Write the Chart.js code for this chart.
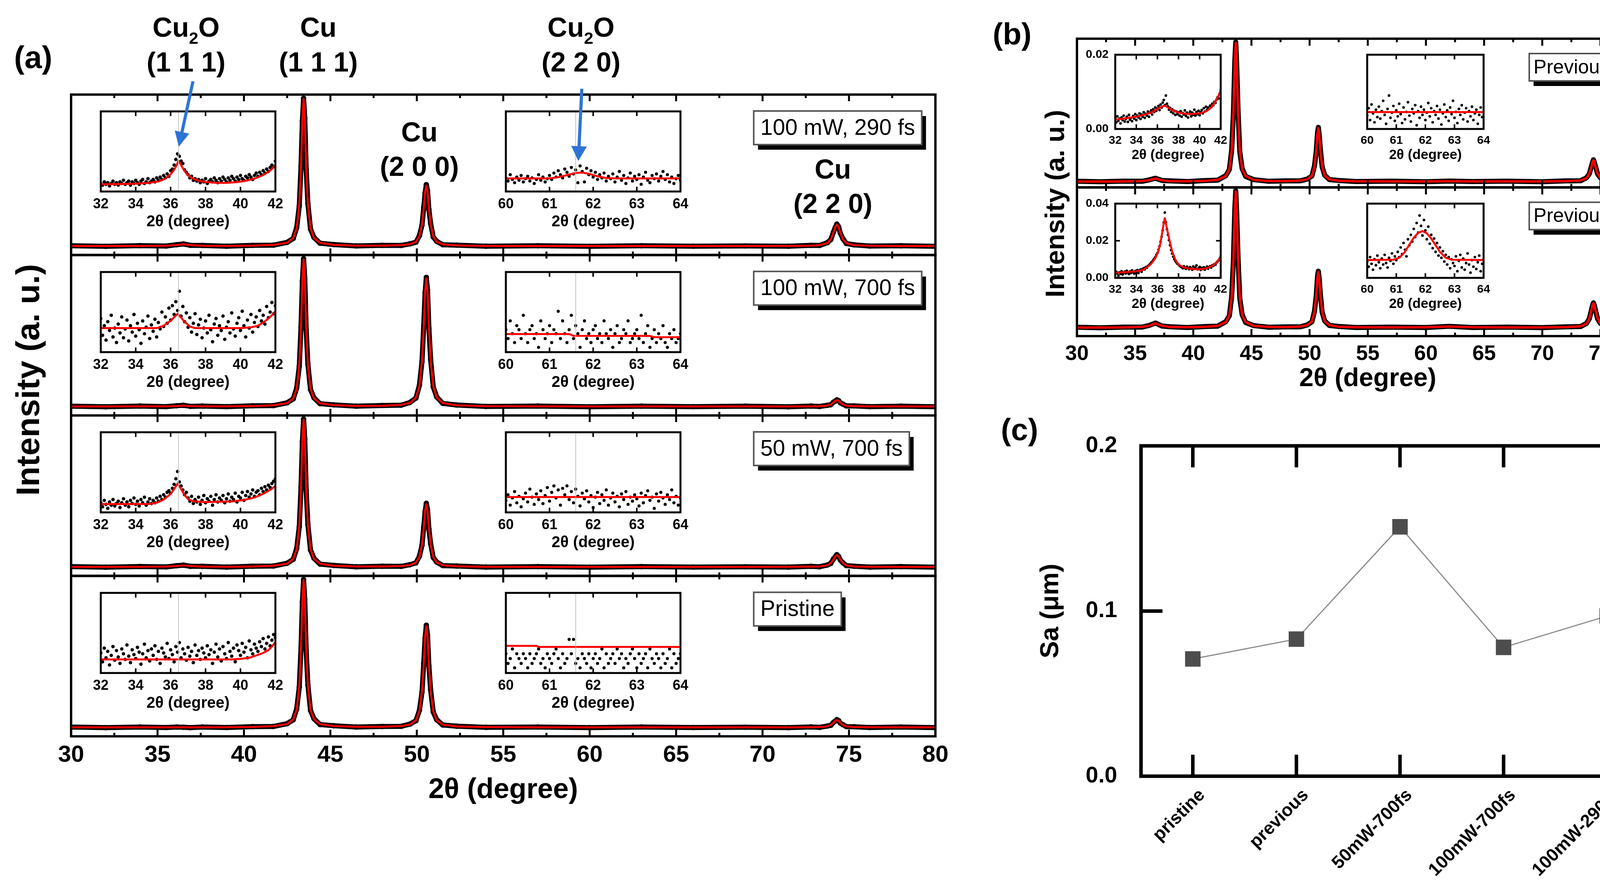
<!DOCTYPE html>
<html><head><meta charset="utf-8">
<script src="https://cdn.jsdelivr.net/npm/chart.js@4.4.1/dist/chart.umd.min.js"></script>
<style>
html,body{margin:0;padding:0;background:#fff;}
body{width:4310px;height:2290px;position:relative;overflow:hidden;}
canvas{position:absolute;}
</style></head><body>
<script>
// ================= DATA =================
// Panel (a) main XRD patterns (2theta grid and normalized intensities)
const XA = [30,32,34,35.5,36.1,36.5,36.9,37.6,39,40.5,41.7,42.5,42.85,43.05,43.2,43.3,43.38,43.45,43.52,43.6,43.7,43.85,44.05,44.4,45.2,46.5,48,49.1,49.6,49.95,50.15,50.3,50.4,50.48,50.55,50.62,50.7,50.8,50.95,51.15,51.5,52.3,54,57,60,63,66,69,71.5,72.8,73.3,73.75,73.95,74.1,74.2,74.3,74.4,74.5,74.65,74.85,75.3,76.2,78,80];
const FIT_290 = [.001,.001,.002,.003,.008,.013,.008,.003,.002,.004,.009,.023,.056,.121,.281,.531,.861,1.0,.861,.531,.281,.121,.056,.023,.009,.004,.004,.007,.013,.030,.067,.149,.255,.370,.411,.370,.255,.149,.067,.030,.013,.005,.002,.001,.001,.001,.001,.001,.002,.004,.007,.021,.048,.092,.129,.147,.129,.092,.048,.021,.007,.003,.001,.001];
const OBS_290 = [.003,-.001,.004,.001,.010,.015,.006,.005,.000,.006,.007,.026,.052,.126,.274,.540,.852,1.005,.870,.522,.288,.116,.060,.020,.011,.002,.006,.005,.016,.027,.071,.143,.262,.362,.418,.376,.248,.154,.063,.033,.010,.007,.000,.003,-.001,.003,.000,.002,.000,.006,.005,.024,.045,.095,.125,.150,.132,.088,.051,.018,.009,.001,.003,-.001];
const FIT_700 = [.001,.001,.002,.002,.004,.007,.004,.002,.002,.004,.009,.023,.056,.121,.281,.531,.861,1.0,.861,.531,.281,.121,.056,.023,.010,.005,.006,.012,.025,.062,.140,.314,.540,.784,.871,.784,.540,.314,.140,.062,.025,.009,.003,.002,.001,.001,.001,.001,.001,.002,.003,.007,.015,.028,.039,.044,.039,.028,.015,.007,.003,.002,.001,.001];
const OBS_700 = [.003,-.001,.004,.000,.006,.009,.002,.004,.000,.006,.007,.026,.052,.126,.274,.540,.852,1.005,.870,.522,.288,.116,.060,.020,.012,.003,.008,.010,.028,.058,.145,.306,.551,.775,.878,.792,.531,.320,.134,.066,.022,.011,.001,.004,-.001,.003,.000,.003,-.001,.004,.001,.009,.013,.030,.037,.046,.041,.026,.017,.005,.005,.000,.003,-.001];
const FIT_50 = [.001,.001,.002,.003,.007,.011,.007,.003,.002,.004,.009,.023,.056,.121,.281,.531,.861,1.0,.861,.531,.281,.121,.056,.023,.009,.004,.004,.007,.013,.031,.069,.154,.265,.384,.427,.384,.265,.154,.069,.031,.013,.005,.002,.001,.001,.001,.001,.001,.002,.003,.004,.012,.027,.051,.071,.081,.071,.051,.027,.012,.004,.002,.001,.001];
const OBS_50 = [.003,-.001,.004,.001,.009,.013,.005,.005,.000,.006,.007,.026,.052,.126,.274,.540,.852,1.005,.870,.522,.288,.116,.060,.020,.011,.002,.006,.005,.016,.028,.073,.148,.272,.376,.433,.390,.258,.159,.065,.034,.010,.007,.000,.003,-.001,.003,.000,.002,.000,.005,.002,.014,.025,.054,.068,.084,.073,.048,.029,.010,.006,.000,.003,-.001];
const FIT_PR = [.001,.001,.001,.001,.001,.001,.001,.001,.002,.004,.009,.023,.056,.121,.281,.531,.861,1.0,.861,.531,.281,.121,.056,.023,.010,.005,.005,.010,.020,.049,.111,.248,.427,.619,.688,.619,.427,.248,.111,.049,.020,.007,.003,.001,.001,.001,.001,.001,.001,.002,.003,.008,.017,.032,.045,.051,.045,.032,.017,.008,.003,.002,.001,.001];
const OBS_PR = [.003,-.001,.003,.000,.003,.002,-.001,.003,.000,.006,.007,.026,.052,.126,.274,.540,.852,1.005,.870,.522,.288,.116,.060,.020,.012,.003,.007,.008,.023,.046,.116,.241,.436,.610,.695,.627,.418,.255,.105,.053,.017,.009,.001,.003,-.001,.003,.000,.002,-.001,.004,.001,.010,.015,.034,.043,.053,.047,.030,.019,.006,.005,.000,.003,-.001];

// Panel (b) main XRD patterns
const XB = [30,32,34,35.6,36.2,36.75,37.3,38,39.5,41,42.1,42.8,43.1,43.3,43.45,43.57,43.65,43.73,43.85,44.0,44.2,44.5,45.2,46.5,48,49.2,49.8,50.2,50.42,50.57,50.68,50.75,50.82,50.93,51.08,51.3,51.7,52.5,54,57,60,62,64,67,70,72,73.3,73.8,74.05,74.22,74.32,74.4,74.48,74.58,74.75,75.0,75.5,76.5,78,80];
const FIT_P2 = [.002,.002,.003,.006,.012,.024,.012,.005,.004,.007,.014,.042,.092,.222,.502,.861,1.0,.861,.502,.222,.092,.042,.014,.006,.005,.009,.018,.045,.110,.226,.349,.386,.349,.226,.110,.045,.018,.008,.004,.003,.003,.004,.003,.003,.003,.005,.010,.026,.061,.107,.144,.155,.144,.107,.061,.026,.010,.005,.003,.003];
const OBS_P2 = [.004,.001,.005,.004,.014,.026,.010,.007,.002,.009,.012,.045,.088,.229,.494,.870,1.006,.852,.510,.215,.096,.039,.016,.004,.007,.007,.020,.042,.115,.221,.355,.392,.343,.231,.106,.048,.016,.010,.002,.005,.001,.006,.002,.005,.001,.007,.008,.029,.058,.111,.140,.159,.141,.111,.058,.029,.008,.007,.001,.005];
const FIT_P1 = [.003,.003,.004,.008,.016,.033,.016,.007,.005,.008,.015,.043,.093,.223,.503,.862,1.0,.862,.503,.223,.093,.043,.015,.007,.006,.010,.020,.048,.118,.241,.372,.410,.372,.241,.118,.048,.020,.009,.005,.004,.005,.010,.005,.004,.004,.006,.012,.030,.071,.125,.168,.180,.168,.125,.071,.030,.012,.006,.004,.004];
const OBS_P1 = [.005,.001,.006,.006,.018,.036,.014,.009,.003,.010,.013,.046,.089,.230,.495,.871,1.006,.853,.511,.216,.097,.040,.017,.005,.008,.008,.022,.045,.123,.236,.378,.416,.366,.246,.114,.051,.018,.011,.003,.006,.003,.012,.003,.006,.002,.008,.010,.033,.068,.129,.164,.184,.165,.129,.068,.033,.010,.008,.002,.006];

// Inset grids
const XI1 = [32.0,32.1,32.2,32.3,32.4,32.5,32.6,32.7,32.8,32.9,33.0,33.1,33.2,33.3,33.4,33.5,33.6,33.7,33.8,33.9,34.0,34.1,34.2,34.3,34.4,34.5,34.6,34.7,34.8,34.9,35.0,35.1,35.2,35.3,35.4,35.5,35.6,35.7,35.8,35.9,36.0,36.1,36.2,36.3,36.4,36.5,36.6,36.7,36.8,36.9,37.0,37.1,37.2,37.3,37.4,37.5,37.6,37.7,37.8,37.9,38.0,38.1,38.2,38.3,38.4,38.5,38.6,38.7,38.8,38.9,39.0,39.1,39.2,39.3,39.4,39.5,39.6,39.7,39.8,39.9,40.0,40.1,40.2,40.3,40.4,40.5,40.6,40.7,40.8,40.9,41.0,41.1,41.2,41.3,41.4,41.5,41.6,41.7,41.8,41.9,42.0];
const XI2 = [60.00,60.05,60.10,60.15,60.20,60.25,60.30,60.35,60.40,60.45,60.50,60.55,60.60,60.65,60.70,60.75,60.80,60.85,60.90,60.95,61.00,61.05,61.10,61.15,61.20,61.25,61.30,61.35,61.40,61.45,61.50,61.55,61.60,61.65,61.70,61.75,61.80,61.85,61.90,61.95,62.00,62.05,62.10,62.15,62.20,62.25,62.30,62.35,62.40,62.45,62.50,62.55,62.60,62.65,62.70,62.75,62.80,62.85,62.90,62.95,63.00,63.05,63.10,63.15,63.20,63.25,63.30,63.35,63.40,63.45,63.50,63.55,63.60,63.65,63.70,63.75,63.80,63.85,63.90,63.95,64.00];

// Inset (32-42 deg) measured points
const IN1_290 = [0.10,0.08,0.12,0.09,0.11,0.07,0.10,0.13,0.09,0.11,0.08,0.12,0.10,0.14,0.09,0.11,0.13,0.08,0.12,0.10,0.14,0.11,0.09,0.13,0.15,0.10,0.12,0.16,0.11,0.13,0.15,0.12,0.17,0.14,0.18,0.15,0.20,0.17,0.22,0.19,0.26,0.28,0.33,0.40,0.47,0.44,0.38,0.35,0.27,0.24,0.21,0.17,0.19,0.14,0.16,0.13,0.15,0.11,0.14,0.12,0.16,0.10,0.13,0.15,0.12,0.17,0.14,0.11,0.16,0.13,0.18,0.15,0.12,0.17,0.14,0.19,0.16,0.13,0.18,0.15,0.20,0.16,0.14,0.19,0.17,0.21,0.18,0.15,0.20,0.23,0.19,0.24,0.21,0.26,0.23,0.28,0.25,0.30,0.33,0.31,0.38];
const IN1_700 = [0.42,0.21,0.33,0.15,0.38,0.27,0.46,0.19,0.30,0.12,0.35,0.24,0.44,0.18,0.29,0.40,0.14,0.33,0.25,0.47,0.20,0.36,0.28,0.11,0.39,0.23,0.31,0.45,0.17,0.34,0.26,0.41,0.19,0.37,0.29,0.50,0.32,0.44,0.36,0.55,0.40,0.58,0.47,0.63,0.52,0.76,0.45,0.57,0.38,0.49,0.31,0.43,0.25,0.36,0.48,0.22,0.34,0.41,0.18,0.30,0.39,0.24,0.46,0.28,0.13,0.35,0.42,0.21,0.33,0.27,0.45,0.16,0.31,0.38,0.24,0.49,0.29,0.20,0.36,0.43,0.27,0.51,0.33,0.19,0.40,0.30,0.47,0.25,0.37,0.44,0.32,0.52,0.39,0.46,0.35,0.57,0.43,0.50,0.62,0.48,0.58];
const IN1_50 = [0.12,0.07,0.15,0.10,0.05,0.13,0.09,0.16,0.08,0.11,0.14,0.06,0.12,0.17,0.09,0.13,0.07,0.15,0.11,0.18,0.10,0.14,0.08,0.16,0.12,0.19,0.09,0.13,0.17,0.11,0.15,0.12,0.18,0.14,0.20,0.16,0.22,0.19,0.25,0.27,0.24,0.30,0.35,0.42,0.51,0.38,0.33,0.28,0.22,0.25,0.18,0.14,0.20,0.11,0.16,0.13,0.19,0.10,0.15,0.21,0.12,0.17,0.14,0.20,0.09,0.16,0.22,0.13,0.18,0.15,0.21,0.12,0.17,0.23,0.14,0.19,0.16,0.24,0.13,0.20,0.18,0.25,0.15,0.21,0.26,0.19,0.23,0.28,0.20,0.25,0.27,0.22,0.30,0.26,0.32,0.28,0.34,0.31,0.36,0.39,0.42];
const IN1_PR = [0.25,0.14,0.31,0.19,0.27,0.10,0.22,0.33,0.16,0.28,0.20,0.12,0.30,0.24,0.17,0.35,0.21,0.13,0.29,0.23,0.18,0.32,0.26,0.11,0.24,0.36,0.19,0.28,0.15,0.30,0.22,0.34,0.17,0.27,0.12,0.31,0.25,0.20,0.37,0.18,0.29,0.23,0.14,0.33,0.26,0.38,0.19,0.30,0.24,0.16,0.32,0.21,0.27,0.13,0.35,0.22,0.28,0.17,0.31,0.25,0.19,0.34,0.23,0.29,0.12,0.26,0.36,0.20,0.30,0.15,0.33,0.24,0.18,0.38,0.27,0.21,0.31,0.14,0.35,0.28,0.22,0.37,0.26,0.32,0.19,0.40,0.29,0.24,0.36,0.31,0.27,0.39,0.33,0.43,0.30,0.37,0.45,0.34,0.41,0.48,0.44];
const IN1_P2 = [0.0030,0.0018,0.0034,0.0022,0.0028,0.0015,0.0031,0.0024,0.0036,0.0020,0.0027,0.0033,0.0019,0.0038,0.0025,0.0030,0.0021,0.0035,0.0028,0.0040,0.0024,0.0036,0.0031,0.0042,0.0027,0.0039,0.0033,0.0045,0.0030,0.0041,0.0036,0.0047,0.0033,0.0044,0.0050,0.0039,0.0053,0.0046,0.0058,0.0049,0.0055,0.0062,0.0051,0.0066,0.0058,0.0071,0.0078,0.0064,0.0090,0.0068,0.0061,0.0052,0.0057,0.0046,0.0053,0.0042,0.0049,0.0038,0.0047,0.0040,0.0045,0.0036,0.0048,0.0033,0.0043,0.0039,0.0050,0.0035,0.0044,0.0031,0.0041,0.0047,0.0034,0.0044,0.0038,0.0052,0.0036,0.0046,0.0040,0.0049,0.0037,0.0045,0.0051,0.0042,0.0056,0.0047,0.0060,0.0052,0.0058,0.0055,0.0063,0.0059,0.0068,0.0064,0.0073,0.0070,0.0079,0.0085,0.0082,0.0094,0.0105];
const IN1_P1 = [0.0020,0.0033,0.0025,0.0012,0.0030,0.0022,0.0036,0.0018,0.0028,0.0034,0.0024,0.0038,0.0029,0.0021,0.0035,0.0027,0.0040,0.0031,0.0023,0.0037,0.0030,0.0042,0.0026,0.0039,0.0045,0.0033,0.0048,0.0052,0.0046,0.0058,0.0055,0.0064,0.0068,0.0075,0.0082,0.0087,0.0095,0.0103,0.0112,0.0124,0.0134,0.0152,0.0170,0.0195,0.0222,0.0256,0.0298,0.0352,0.0300,0.0262,0.0232,0.0203,0.0176,0.0150,0.0131,0.0114,0.0101,0.0091,0.0083,0.0076,0.0072,0.0066,0.0061,0.0058,0.0052,0.0063,0.0055,0.0049,0.0060,0.0053,0.0047,0.0058,0.0051,0.0044,0.0062,0.0049,0.0055,0.0067,0.0046,0.0052,0.0059,0.0043,0.0054,0.0048,0.0057,0.0045,0.0053,0.0061,0.0050,0.0058,0.0063,0.0056,0.0068,0.0065,0.0074,0.0071,0.0082,0.0088,0.0095,0.0104,0.0116];

// Inset (60-64 deg) measured points
const IN2_290 = [0.17,0.13,0.21,0.15,0.11,0.18,0.14,0.20,0.12,0.16,0.19,0.13,0.17,0.10,0.15,0.21,0.14,0.18,0.12,0.16,0.20,0.15,0.23,0.18,0.26,0.21,0.17,0.28,0.24,0.19,0.30,0.22,0.27,0.11,0.32,0.25,0.12,0.29,0.21,0.26,0.18,0.24,0.15,0.21,0.17,0.23,0.13,0.19,0.16,0.22,0.12,0.18,0.25,0.14,0.20,0.10,0.17,0.23,0.13,0.19,0.15,0.21,0.09,0.18,0.24,0.14,0.11,0.20,0.16,0.22,0.13,0.19,0.25,0.15,0.21,0.12,0.18,0.10,0.16,0.20,0.14];
const IN2_700 = [0.28,0.17,0.39,0.23,0.12,0.33,0.28,0.17,0.46,0.23,0.12,0.28,0.33,0.17,0.23,0.06,0.39,0.28,0.17,0.23,0.33,0.12,0.28,0.23,0.51,0.17,0.39,0.23,0.12,0.28,0.46,0.17,0.33,0.23,0.06,0.28,0.39,0.17,0.23,0.12,0.28,0.33,0.17,0.23,0.12,0.39,0.23,0.17,0.28,0.06,0.23,0.33,0.12,0.17,0.28,0.23,0.39,0.12,0.17,0.23,0.28,0.17,0.46,0.12,0.23,0.33,0.06,0.17,0.28,0.12,0.23,0.17,0.33,0.12,0.06,0.23,0.17,0.28,0.12,0.17,0.23];
const IN2_50 = [0.15,0.22,0.09,0.18,0.26,0.12,0.20,0.07,0.17,0.24,0.13,0.29,0.19,0.10,0.23,0.16,0.27,0.11,0.21,0.31,0.14,0.25,0.33,0.18,0.28,0.09,0.30,0.22,0.33,0.16,0.26,0.12,0.29,0.20,0.08,0.24,0.17,0.27,0.13,0.21,0.06,0.19,0.25,0.11,0.22,0.15,0.28,0.09,0.18,0.24,0.13,0.20,0.07,0.23,0.16,0.26,0.10,0.19,0.14,0.22,0.17,0.08,0.24,0.12,0.21,0.27,0.15,0.19,0.05,0.23,0.14,0.25,0.18,0.10,0.22,0.16,0.28,0.12,0.20,0.09,0.18];
const IN2_PR = [0.24,0.12,0.18,0.30,0.065,0.24,0.18,0.12,0.24,0.18,0.065,0.24,0.12,0.18,0.24,0.30,0.12,0.18,0.065,0.24,0.18,0.12,0.24,0.30,0.18,0.065,0.24,0.12,0.18,0.42,0.24,0.42,0.12,0.18,0.065,0.24,0.18,0.12,0.24,0.065,0.18,0.24,0.12,0.18,0.30,0.065,0.24,0.12,0.18,0.24,0.12,0.30,0.18,0.24,0.065,0.18,0.12,0.24,0.30,0.18,0.065,0.24,0.12,0.18,0.24,0.065,0.30,0.18,0.12,0.24,0.18,0.065,0.24,0.12,0.18,0.30,0.065,0.24,0.12,0.18,0.24];
const IN2_P2 = [0.18,0.28,0.12,0.33,0.21,0.09,0.26,0.16,0.30,0.14,0.24,0.38,0.19,0.07,0.27,0.45,0.15,0.22,0.31,0.11,0.25,0.17,0.34,0.20,0.08,0.29,0.13,0.23,0.36,0.18,0.10,0.27,0.21,0.32,0.05,0.24,0.15,0.30,0.19,0.26,0.12,0.22,0.35,0.17,0.28,0.09,0.24,0.19,0.31,0.14,0.26,0.06,0.21,0.33,0.16,0.25,0.11,0.29,0.20,0.38,0.15,0.23,0.08,0.27,0.19,0.32,0.13,0.22,0.28,0.10,0.24,0.17,0.30,0.12,0.21,0.26,0.07,0.19,0.29,0.16,0.23];
const IN2_P1 = [0.22,0.15,0.28,0.19,0.11,0.25,0.17,0.30,0.21,0.13,0.26,0.18,0.31,0.20,0.14,0.27,0.23,0.33,0.19,0.29,0.24,0.35,0.28,0.41,0.32,0.47,0.38,0.29,0.52,0.44,0.58,0.49,0.66,0.55,0.74,0.61,0.84,0.70,0.57,0.78,0.64,0.52,0.69,0.46,0.58,0.40,0.53,0.35,0.47,0.30,0.41,0.27,0.36,0.22,0.31,0.18,0.28,0.13,0.25,0.20,0.16,0.29,0.09,0.23,0.31,0.14,0.26,0.11,0.20,0.33,0.18,0.07,0.24,0.15,0.28,0.12,0.21,0.30,0.09,0.19,0.25];

// Inset fitted curves [2theta, intensity]
const FIT1_290 = [[32,0.09],[33,0.093],[34,0.098],[34.8,0.108],[35.3,0.125],[35.7,0.16],[36.0,0.215],[36.2,0.27],[36.35,0.33],[36.45,0.385],[36.55,0.35],[36.7,0.29],[36.9,0.225],[37.2,0.168],[37.6,0.135],[38.0,0.118],[38.6,0.108],[39.2,0.107],[39.8,0.117],[40.4,0.138],[40.9,0.168],[41.3,0.205],[41.6,0.245],[41.85,0.29],[42.0,0.33]];
const FIT1_700 = [[32,0.30],[35.2,0.30],[35.6,0.33],[36.0,0.39],[36.4,0.48],[36.8,0.38],[37.1,0.32],[37.4,0.30],[40.0,0.30],[40.6,0.31],[41.0,0.33],[41.3,0.37],[41.6,0.42],[41.8,0.46],[42.0,0.51]];
const FIT1_50 = [[32,0.104],[34.8,0.105],[35.2,0.12],[35.6,0.16],[36.0,0.23],[36.2,0.29],[36.4,0.36],[36.6,0.29],[36.8,0.216],[37.0,0.165],[37.3,0.138],[38.0,0.128],[39.5,0.136],[40.2,0.155],[40.8,0.185],[41.3,0.232],[41.7,0.28],[42.0,0.328]];
const FIT1_PR = [[32,0.17],[39.5,0.17],[40.0,0.177],[40.5,0.19],[41.0,0.226],[41.3,0.25],[41.6,0.285],[41.8,0.33],[42.0,0.387]];
const FIT1_P2 = [[32,0.0025],[33,0.0029],[34,0.0033],[35,0.004],[35.6,0.0047],[36,0.0054],[36.4,0.006],[36.7,0.0063],[37.0,0.0058],[37.5,0.0049],[38,0.0044],[39,0.004],[40,0.0042],[40.5,0.0046],[40.8,0.0051],[41.2,0.0061],[41.5,0.0074],[41.8,0.009],[42,0.0104]];
const FIT1_P1 = [[32,0.0028],[33,0.0031],[34,0.0035],[34.6,0.0042],[35,0.0057],[35.4,0.0075],[35.8,0.0106],[36.1,0.0145],[36.3,0.0191],[36.5,0.0262],[36.7,0.0322],[36.85,0.028],[37.0,0.024],[37.2,0.019],[37.4,0.0142],[37.7,0.0098],[38,0.0071],[38.5,0.0057],[39,0.005],[40,0.0046],[40.6,0.0051],[41,0.006],[41.3,0.0069],[41.6,0.0081],[41.8,0.0095],[42,0.0113]];
const FIT2_290 = [[60,0.163],[61.0,0.163],[61.2,0.178],[61.4,0.205],[61.6,0.232],[61.75,0.236],[61.9,0.222],[62.1,0.19],[62.3,0.168],[62.5,0.163],[64,0.163]];
const FIT2_700 = [[60,0.226],[61.45,0.226],[61.55,0.204],[63.3,0.202],[63.4,0.186],[64,0.186]];
const FIT2_50 = [[60,0.192],[64,0.192]];
const FIT2_PR = [[60,0.339],[60.7,0.339],[60.75,0.326],[64,0.326]];
const FIT2_P2 = [[60,0.227],[64,0.227]];
const FIT2_P1 = [[60,0.24],[60.9,0.245],[61.1,0.27],[61.3,0.35],[61.45,0.45],[61.6,0.54],[61.75,0.605],[61.9,0.63],[62.05,0.6],[62.2,0.53],[62.35,0.44],[62.5,0.35],[62.7,0.27],[62.9,0.245],[64,0.24]];

// Panel (c) roughness
const SA_CATS = ['pristine','previous','50mW-700fs','100mW-700fs','100mW-290fs'];
const SA_VALS = [0.071,0.083,0.151,0.078,0.097];

// Tick positions
const MAIN_MAJOR = [35,40,45,50,55,60,65,70,75];
const MAIN_MINOR = [32.5,37.5,42.5,47.5,52.5,57.5,62.5,67.5,72.5,77.5];
const IN1_TICKS = [34,36,38,40];
const IN2_TICKS = [61,62,63];

// ================= RENDERING =================
const FONT = "'Liberation Sans', Arial, Helvetica, sans-serif";
Chart.defaults.font.family = FONT;
Chart.defaults.color = '#000';
const EXTRA = {};

function line(ctx, x1, y1, x2, y2) { ctx.beginPath(); ctx.moveTo(x1, y1); ctx.lineTo(x2, y2); ctx.stroke(); }

const framePlugin = {
  id: 'frameX',
  afterDatasetsDraw(chart) {
    const e = EXTRA[chart.canvas.id]; if (!e || !e.frame) return;
    const o = e.frame, ctx = chart.ctx, ca = chart.chartArea, xs = chart.scales.x;
    ctx.save(); ctx.lineCap = 'butt';
    if (o.vlines) {
      ctx.strokeStyle = '#c4c4c4'; ctx.lineWidth = 2;
      o.vlines.forEach(v => { const px = xs.getPixelForValue(v); line(ctx, px, ca.top, px, ca.bottom); });
    }
    (o.bands || ['y']).forEach(id => {
      const ys = chart.scales[id], top = ys.top, bot = ys.bottom, l = ca.left, r = ca.right;
      ctx.strokeStyle = '#000'; ctx.lineWidth = o.tw;
      (o.xMajor || []).forEach(v => { const px = xs.getPixelForValue(v); line(ctx, px, top, px, top + o.majLen); line(ctx, px, bot, px, bot - o.majLen); });
      (o.xMinor || []).forEach(v => { const px = xs.getPixelForValue(v); line(ctx, px, top, px, top + o.minLen); line(ctx, px, bot, px, bot - o.minLen); });
      (o.yMajor || []).forEach(v => { const py = ys.getPixelForValue(v); line(ctx, l, py, l + o.majLen, py); line(ctx, r, py, r - o.majLen, py); });
      ctx.lineWidth = o.lw;
      ctx.strokeRect(l, top, r - l, bot - top);
    });
    ctx.restore();
  }
};

const decoPlugin = {
  id: 'decoX',
  afterDraw(chart) {
    const e = EXTRA[chart.canvas.id]; if (!e) return;
    const ctx = chart.ctx, xs = chart.scales.x, ca = chart.chartArea;
    if (e.tags) {
      const o = e.tags;
      o.items.forEach(it => {
        ctx.save();
        ctx.font = `${o.size}px ${FONT}`;
        const ys = chart.scales[it.scale];
        const x = xs.getPixelForValue(it.x), y = ys.top + o.dy;
        const w = ctx.measureText(it.text).width + 2 * o.pad, h = o.h;
        ctx.fillStyle = '#000'; ctx.fillRect(x + o.sx, y + o.sy, w, h);
        ctx.fillStyle = '#fff'; ctx.fillRect(x, y, w, h);
        ctx.strokeStyle = '#555'; ctx.lineWidth = o.bw; ctx.strokeRect(x, y, w, h);
        ctx.fillStyle = '#000'; ctx.textAlign = 'left'; ctx.textBaseline = 'middle';
        ctx.fillText(it.text, x + o.pad, y + h / 2 + 2);
        ctx.restore();
      });
    }
    if (e.notes) {
      const o = e.notes;
      o.items.forEach(it => {
        ctx.save(); ctx.fillStyle = '#000'; ctx.textBaseline = 'middle'; ctx.textAlign = 'left';
        const cx = xs.getPixelForValue(it.x);
        const parts = it.parts.map(p => ({ t: p[0], sub: !!p[1] }));
        let total = 0;
        parts.forEach(p => { ctx.font = `bold ${p.sub ? Math.round(o.size * 0.62) : o.size}px ${FONT}`; p.w = ctx.measureText(p.t).width; total += p.w; });
        let x = cx - total / 2;
        parts.forEach(p => { ctx.font = `bold ${p.sub ? Math.round(o.size * 0.62) : o.size}px ${FONT}`; ctx.fillText(p.t, x, it.y + (p.sub ? o.size * 0.36 : 0)); x += p.w; });
        ctx.restore();
      });
    }
    if (e.texts) {
      e.texts.forEach(it => {
        ctx.save(); ctx.translate(it.x, it.y); if (it.rot) ctx.rotate(it.rot * Math.PI / 180);
        ctx.font = `bold ${it.size}px ${FONT}`; ctx.fillStyle = '#000'; ctx.textAlign = 'center'; ctx.textBaseline = 'middle';
        ctx.fillText(it.t, 0, 0); ctx.restore();
      });
    }
    if (e.arrow) {
      const o = e.arrow, ys = chart.scales.y;
      const tx = xs.getPixelForValue(o.tipX), ty = ys.getPixelForValue(o.tipY);
      const sx = xs.getPixelForValue(o.tailX), sy = ca.top + o.tailDy;
      const a = Math.atan2(ty - sy, tx - sx);
      const bx = tx - o.head * Math.cos(a), by = ty - o.head * Math.sin(a);
      ctx.save(); ctx.strokeStyle = o.color; ctx.fillStyle = o.color; ctx.lineWidth = o.lw;
      line(ctx, sx, sy, bx + 3 * Math.cos(a), by + 3 * Math.sin(a));
      const hw = o.headW / 2;
      ctx.beginPath(); ctx.moveTo(tx, ty);
      ctx.lineTo(bx + hw * Math.sin(a), by - hw * Math.cos(a));
      ctx.lineTo(bx - hw * Math.sin(a), by + hw * Math.cos(a));
      ctx.closePath(); ctx.fill(); ctx.restore();
    }
  }
};
Chart.register(framePlugin, decoPlugin);

function place(id, left, top, w, h) {
  const c = document.createElement('canvas');
  c.id = id; c.width = w; c.height = h;
  c.style.left = left + 'px'; c.style.top = top + 'px';
  c.style.width = w + 'px'; c.style.height = h + 'px';
  document.body.appendChild(c);
  return c;
}
const pts = (xs, ys) => xs.map((x, i) => ({ x: x, y: ys[i] }));
const pairs = arr => arr.map(p => ({ x: p[0], y: p[1] }));
function base(padding) {
  return { responsive: false, maintainAspectRatio: false, animation: false, devicePixelRatio: 1, events: [],
    layout: { padding: padding }, plugins: { legend: { display: false }, tooltip: { enabled: false } } };
}
function hiddenY(min, max, extra) {
  return Object.assign({ type: 'linear', min: min, max: max, display: true, ticks: { display: false },
    grid: { display: false, drawTicks: false }, border: { display: false }, afterFit: s => { s.width = 0; } }, extra || {});
}
function xAxis(min, max, step, tickSize, tickPad, titleSize, titlePadB, height) {
  return { type: 'linear', min: min, max: max,
    ticks: { stepSize: step, font: { size: tickSize, weight: 'bold' }, color: '#000', padding: tickPad },
    grid: { display: false, drawTicks: false }, border: { display: false },
    title: { display: true, text: '2θ (degree)', color: '#000', font: { size: titleSize, weight: 'bold' }, padding: { top: 0, bottom: titlePadB } },
    afterFit: s => { s.height = height; } };
}
function obsSet(data, yId, lw, r) {
  return { data: data, yAxisID: yId, borderColor: '#000', borderWidth: lw, borderJoinStyle: 'round', borderCapStyle: 'round',
    pointRadius: r, pointBackgroundColor: '#000', pointBorderWidth: 0, order: 1 };
}
function fitSet(data, yId, lw) {
  return { data: data, yAxisID: yId, borderColor: '#ff0000', borderWidth: lw, borderJoinStyle: 'round', pointRadius: 0, order: 0 };
}

// ---------- Panel (a) main ----------
const A_BANDS = [
  { id: 'y1', obs: OBS_290, fit: FIT_290, tag: '100 mW, 290 fs' },
  { id: 'y2', obs: OBS_700, fit: FIT_700, tag: '100 mW, 700 fs' },
  { id: 'y3', obs: OBS_50, fit: FIT_50, tag: '50 mW, 700 fs' },
  { id: 'y4', obs: OBS_PR, fit: FIT_PR, tag: 'Pristine' }
];
(function () {
  const c = place('cA', 0, 0, 2440, 2130);
  const ds = [], scales = { x: xAxis(30, 80, 5, 60, 12, 72, 65, 246) };
  A_BANDS.forEach((b, k) => {
    ds.push(fitSet(pts(XA, b.fit), b.id, 5));
    ds.push(obsSet(pts(XA, b.obs), b.id, 13, 7));
    scales[b.id] = hiddenY(-0.06, 1.03, { position: 'left', stack: 'A', stackWeight: 1, weight: 4 - k });
  });
  EXTRA.cA = {
    frame: { bands: A_BANDS.map(b => b.id), lw: 6, tw: 5, majLen: 17, minLen: 9, xMajor: MAIN_MAJOR, xMinor: MAIN_MINOR },
    tags: { size: 57, pad: 17, dy: 42, h: 86, sx: 11, sy: 13, bw: 4, items: A_BANDS.map(b => ({ scale: b.id, x: 69.49, text: b.tag })) },
    notes: { size: 70, items: [
      { x: 36.65, y: 75, parts: [['Cu'], ['2', 1], ['O']] }, { x: 36.65, y: 164, parts: [['(1 1 1)']] },
      { x: 44.3, y: 75, parts: [['Cu']] }, { x: 44.3, y: 164, parts: [['(1 1 1)']] },
      { x: 59.5, y: 75, parts: [['Cu'], ['2', 1], ['O']] }, { x: 59.5, y: 164, parts: [['(2 2 0)']] },
      { x: 50.15, y: 343, parts: [['Cu']] }, { x: 50.15, y: 431, parts: [['(2 0 0)']] },
      { x: 74.07, y: 438, parts: [['Cu']] }, { x: 74.07, y: 526, parts: [['(2 2 0)']] }
    ] },
    texts: [{ t: '(a)', x: 85, y: 152, size: 80 }, { t: 'Intensity (a. u.)', x: 77, y: 972, size: 84, rot: -90 }]
  };
  new Chart(c, { type: 'line', data: { datasets: ds }, options: Object.assign(base({ left: 182, top: 242, right: 36, bottom: 0 }), { scales: scales }) });
})();

// ---------- Panel (b) main ----------
const B_BANDS = [
  { id: 'y1', obs: OBS_P2, fit: FIT_P2, tag: 'Previous-2', min: -0.04 },
  { id: 'y2', obs: OBS_P1, fit: FIT_P1, tag: 'Previous-1', min: -0.06 }
];
(function () {
  const c = place('cB', 2529, 0, 1781, 1040);
  const ds = [], scales = { x: xAxis(30, 80, 5, 54, 14, 66, 31, 180) };
  B_BANDS.forEach((b, k) => {
    ds.push(fitSet(pts(XB, b.fit), b.id, 6));
    ds.push(obsSet(pts(XB, b.obs), b.id, 13, 6));
    scales[b.id] = hiddenY(b.min, 1.03, { position: 'left', stack: 'B', stackWeight: 1, weight: 2 - k });
  });
  EXTRA.cB = {
    frame: { bands: B_BANDS.map(b => b.id), lw: 6, tw: 5, majLen: 18, minLen: 9, xMajor: MAIN_MAJOR, xMinor: MAIN_MINOR },
    tags: { size: 50, pad: 11, dy: 38, h: 70, sx: 11, sy: 13, bw: 4, items: B_BANDS.map(b => ({ scale: b.id, x: 68.88, text: b.tag })) },
    texts: [{ t: '(b)', x: 62, y: 92, size: 78 }, { t: 'Intensity (a. u.)', x: 176, y: 521, size: 68, rot: -90 }]
  };
  new Chart(c, { type: 'line', data: { datasets: ds }, options: Object.assign(base({ left: 228, top: 99, right: 64, bottom: 0 }), { scales: scales }) });
})();

// ---------- Insets ----------
function inset(cfg) {
  const c = place(cfg.id, cfg.left, cfg.top, cfg.w, cfg.h);
  const yScale = cfg.yLabels
    ? { type: 'linear', min: cfg.ymin, max: cfg.ymax, ticks: { stepSize: cfg.ystep, callback: v => v.toFixed(2), font: { size: 30, weight: 'bold' }, color: '#000', padding: 17 },
        grid: { display: false, drawTicks: false }, border: { display: false }, afterFit: s => { s.width = cfg.yWidth; } }
    : hiddenY(cfg.ymin, cfg.ymax);
  EXTRA[cfg.id] = { frame: { lw: 5, tw: 4, majLen: 12, xMajor: cfg.ticks, yMajor: cfg.yTicks || [], vlines: cfg.vline ? [cfg.vline] : null } };
  if (cfg.arrow) EXTRA[cfg.id].arrow = cfg.arrow;
  new Chart(c, { type: 'line', data: { datasets: [
      { data: pairs(cfg.fit), borderColor: '#ff0000', borderWidth: 5, borderJoinStyle: 'round', pointRadius: 0, order: 0 },
      { data: pts(cfg.xs, cfg.obs), showLine: false, pointRadius: cfg.r || 4.2, pointBackgroundColor: '#000', pointBorderWidth: 0, order: 1 }
    ] },
    options: Object.assign(base(cfg.pad), { scales: {
      x: xAxis(cfg.xmin, cfg.xmax, cfg.xstep, cfg.tickSize, cfg.tickPad, cfg.titleSize, cfg.titlePadB, cfg.xHeight),
      y: yScale } }) });
}
const ARROW_BLUE = '#2E74D4';
const A_TOPS = [242, 653, 1063, 1474];
const A_IN1 = [[IN1_290, FIT1_290], [IN1_700, FIT1_700], [IN1_50, FIT1_50], [IN1_PR, FIT1_PR]];
const A_IN2 = [[IN2_290, FIT2_290], [IN2_700, FIT2_700], [IN2_50, FIT2_50], [IN2_PR, FIT2_PR]];
A_TOPS.forEach((T, k) => {
  inset({ id: 'ia1_' + k, left: 200, top: T - 45, w: 560, h: 415, pad: { left: 58, right: 55, top: 88, bottom: 0 },
    xmin: 32, xmax: 42, xstep: 2, ticks: IN1_TICKS, tickSize: 36, tickPad: 11, titleSize: 40, titlePadB: 20, xHeight: 122,
    ymin: 0, ymax: 1, xs: XI1, obs: A_IN1[k][0], fit: A_IN1[k][1], vline: 36.45, r: 4.4,
    arrow: k === 0 ? { tipX: 36.47, tipY: 0.56, tailX: 37.28, tailDy: -77, color: ARROW_BLUE, lw: 8, head: 38, headW: 38 } : null });
  inset({ id: 'ia2_' + k, left: 1240, top: T - 45, w: 560, h: 415, pad: { left: 55, right: 58, top: 88, bottom: 0 },
    xmin: 60, xmax: 64, xstep: 1, ticks: IN2_TICKS, tickSize: 36, tickPad: 11, titleSize: 40, titlePadB: 20, xHeight: 122,
    ymin: 0, ymax: 1, xs: XI2, obs: A_IN2[k][0], fit: A_IN2[k][1], vline: 61.6, r: 4,
    arrow: k === 0 ? { tipX: 61.66, tipY: 0.38, tailX: 61.74, tailDy: -58, color: ARROW_BLUE, lw: 8, head: 38, headW: 40 } : null });
});
const B_TOPS = [99, 480];
const B_IN1 = [[IN1_P2, FIT1_P2, 0.02, []], [IN1_P1, FIT1_P1, 0.04, [0.02]]];
const B_IN2 = [[IN2_P2, FIT2_P2], [IN2_P1, FIT2_P1]];
B_TOPS.forEach((T, k) => {
  inset({ id: 'ib1_' + k, left: 2740, top: T - 10, w: 430, h: 340, pad: { left: 0, right: 45, top: 51, bottom: 0 },
    xmin: 32, xmax: 42, xstep: 2, ticks: IN1_TICKS, tickSize: 30, tickPad: 12, titleSize: 35, titlePadB: 11, xHeight: 99,
    yLabels: true, yWidth: 115, ymin: 0, ymax: B_IN1[k][2], ystep: 0.02, yTicks: B_IN1[k][3],
    xs: XI1, obs: B_IN1[k][0], fit: B_IN1[k][1], r: 3.4 });
  inset({ id: 'ib2_' + k, left: 3460, top: T - 10, w: 380, h: 340, pad: { left: 40, right: 42, top: 51, bottom: 0 },
    xmin: 60, xmax: 64, xstep: 1, ticks: IN2_TICKS, tickSize: 30, tickPad: 12, titleSize: 35, titlePadB: 11, xHeight: 99,
    ymin: 0, ymax: 1, xs: XI2, obs: B_IN2[k][0], fit: B_IN2[k][1], r: 3.4 });
});

// ---------- Panel (c) ----------
(function () {
  const c = place('cC', 2529, 1045, 1781, 1245);
  EXTRA.cC = {
    frame: { lw: 9, tw: 9, majLen: 55, xMajor: [0, 1, 2, 3, 4], yMajor: [0.1] },
    texts: [{ t: '(c)', x: 81, y: 59, size: 78 }]
  };
  new Chart(c, { type: 'line',
    data: { labels: SA_CATS, datasets: [{ data: SA_VALS, borderColor: '#8a8a8a', borderWidth: 3, pointStyle: 'rect', pointRadius: 28,
      pointBackgroundColor: '#4d4d4d', pointBorderWidth: 0, clip: false }] },
    options: Object.assign(base({ left: 0, top: 50, right: 63, bottom: 0 }), { scales: {
      x: { type: 'category', offset: true, grid: { display: false, drawTicks: false }, border: { display: false },
        ticks: { minRotation: 45, maxRotation: 45, font: { size: 46, weight: 'bold' }, color: '#000', padding: 22, labelOffset: 24 },
        afterFit: s => { s.height = 304; } },
      y: { type: 'linear', min: 0, max: 0.2, ticks: { stepSize: 0.1, callback: v => v.toFixed(1), font: { size: 58, weight: 'bold' }, color: '#000', padding: 61 },
        grid: { display: false, drawTicks: false }, border: { display: false },
        title: { display: true, text: 'Sa (μm)', color: '#000', font: { size: 66, weight: 'bold' }, padding: { top: 122, bottom: 0 } },
        afterFit: s => { s.width = 392; } }
    } }) });
})();
</script>
</body></html>
